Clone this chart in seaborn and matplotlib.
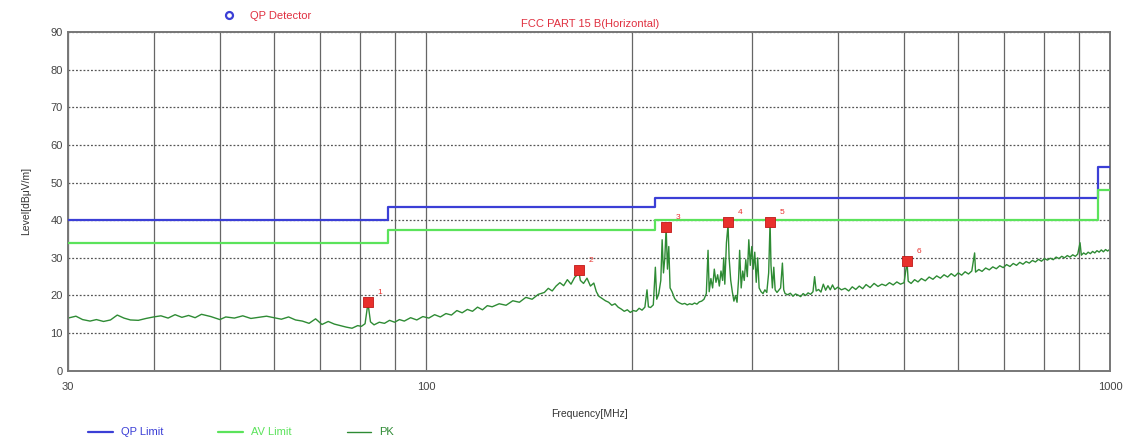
import seaborn as sns
import matplotlib.pyplot as plt
from matplotlib.ticker import FixedLocator, NullFormatter

# limit lines (step shaped)
limit_freq = [30, 88, 216, 960, 1000]
qp_limit = [40, 43.5, 46, 54, 54]
av_limit = [34, 37.5, 40, 48, 48]

# peak trace
pk_freq = [30.0, 30.8, 31.5, 32.3, 33.0, 33.8, 34.6, 35.4, 36.2, 37.0, 38.0, 39.0, 40.0, 41.0, 42.0,
           43.0, 44.0, 45.0, 46.0, 47.0, 48.5, 50.0, 51.0, 52.5, 54.0, 55.5, 57.0, 58.5, 60.0, 61.5,
           63.0, 64.5, 66.0, 67.5, 69.0, 70.5, 72.0, 73.5, 75.0, 76.5, 78.0, 79.5, 80.5, 81.5, 82.3,
           83.0, 84.0, 85.5, 87.0, 88.5, 90.0, 91.5, 93.0, 95.0, 97.0, 99.0, 101, 103, 105, 107,
           109, 111, 113, 115, 117, 119, 121, 123, 125, 128, 131, 134, 137, 140, 143,
           146, 149, 151, 153, 155, 157, 159, 161, 163, 165, 166.5, 167.3, 168.2, 170, 172,
           174, 176, 177.5, 179, 181, 183, 185, 187, 189, 191, 193, 195, 197, 199, 201,
           203, 205, 207, 209, 210.5, 211.5, 213, 215, 216.5, 217.5, 219, 220.5, 221.5, 222.5, 223.5,
           224.5, 225.5, 226.5, 227.5, 229, 231, 233, 235, 237, 239, 241, 243, 245, 247, 249,
           251, 253, 255, 257, 258.5, 259.5, 261, 262.5, 264, 265.5, 267, 268.5, 270, 271.5, 272.5,
           273.5, 275, 276.5, 277.5, 279, 280.5, 282, 283.5, 285, 286.5, 287.5, 289, 290.5, 292, 293.5,
           295, 296.5, 298, 299.5, 301, 302.5, 304, 305.5, 307, 309, 311, 313, 315, 317, 318.5,
           319.5, 321, 322.5, 324, 326, 328, 330, 332, 333.5, 335, 338, 341, 344, 347, 350,
           353, 356, 359, 362, 365, 368, 370, 372, 375, 378, 381, 384, 387, 390, 393,
           396, 400, 405, 410, 415, 420, 425, 430, 435, 440, 446, 452, 458, 464, 470,
           476, 482, 488, 494, 500, 505, 507, 512, 518, 524, 530, 537, 544, 551, 558,
           565, 572, 579, 586, 593, 600, 607, 614, 621, 628, 634, 636, 643, 650, 658,
           666, 674, 682, 690, 698, 706, 714, 722, 730, 738, 746, 754, 762, 770, 778,
           786, 794, 802, 810, 818, 826, 834, 842, 850, 858, 866, 874, 882, 890, 897,
           904, 908, 915, 922, 929, 936, 943, 950, 957, 964, 971, 978, 985, 992, 1000]
pk_level = [14.0, 14.5, 13.6, 13.2, 13.6, 13.1, 13.5, 14.8, 14.0, 13.5, 13.4, 13.9, 14.3, 14.6, 14.0,
            14.9, 14.2, 14.7, 14.1, 15.0, 14.4, 13.6, 14.3, 14.0, 14.6, 13.9, 14.2, 14.5, 14.1, 13.7,
            14.3, 13.5, 13.2, 12.6, 13.8, 12.3, 13.1, 12.4, 12.0, 11.6, 11.3, 12.0, 11.8, 12.5, 18.0,
            13.0, 12.2, 12.9, 12.6, 13.4, 12.9, 13.6, 13.2, 14.1, 13.5, 14.4, 14.0, 14.9, 14.3, 15.2,
            14.8, 16.0, 15.4, 16.3, 15.8, 16.9, 16.2, 17.3, 17.0, 17.8, 17.4, 18.6, 18.2, 19.5, 19.0,
            20.3, 20.8, 21.9, 21.2, 22.5, 23.4, 22.6, 24.2, 23.0, 24.8, 25.5, 26.5, 24.0, 23.2, 24.6,
            22.5, 23.3, 21.0, 19.8, 19.2, 18.6, 18.2, 17.4, 17.8, 16.9, 16.4, 15.8, 16.2, 15.5, 16.0,
            15.8, 16.6, 16.1, 16.9, 21.5, 17.0, 16.8, 17.5, 27.5, 19.0, 20.5, 24.0, 34.8, 26.0, 30.0,
            38.0, 27.0, 33.0, 22.0, 21.0, 19.2, 18.4, 18.0, 17.7, 17.9, 17.5, 17.8, 17.6, 18.0, 17.7,
            18.3, 18.5, 19.0, 20.5, 32.0, 21.0, 24.5, 22.0, 27.0, 23.5, 25.5, 22.5, 26.5, 24.0, 30.0,
            23.0, 34.0, 38.8, 30.0, 24.0, 21.0, 18.5, 20.0, 18.2, 24.5, 32.0, 22.0, 26.5, 24.0, 29.5,
            25.0, 34.8, 28.0, 33.0, 27.0, 31.5, 23.5, 30.0, 22.0, 21.0, 20.5, 21.5, 20.8, 26.0, 39.5,
            28.0, 22.0, 27.5, 21.5, 20.8, 21.4, 22.0, 28.6, 21.5, 20.5, 20.2, 20.6, 19.8, 20.4, 20.1,
            19.7, 20.5, 20.0, 20.7, 20.3, 21.0, 25.0, 21.2, 21.6, 20.9, 23.0, 21.4, 22.6, 21.5, 22.8,
            21.6, 22.2, 21.5, 21.9, 21.2, 22.3, 21.6, 22.5, 21.8, 22.9, 22.1, 23.2, 22.4, 23.0, 22.6,
            23.4, 22.8, 23.6, 23.0, 23.4, 29.0, 23.8, 23.2, 24.2, 23.6, 24.5, 23.9, 24.9, 24.3, 25.2,
            24.6, 25.5, 24.9, 25.8, 25.1, 26.0, 25.4, 26.3, 25.7, 26.5, 31.3, 26.2, 26.9, 26.4, 27.3,
            26.8, 27.6, 27.1, 27.9, 27.4, 28.2, 27.7, 28.5, 28.0, 28.8, 28.3, 29.0, 28.6, 29.3, 28.9,
            29.6, 29.1, 29.8, 29.4, 29.9, 29.5, 30.2, 29.8, 30.4, 30.0, 30.6, 30.2, 30.8, 30.4, 31.0,
            34.0, 30.7, 31.3, 30.9, 31.5, 31.1, 31.7, 31.3, 31.9, 31.5, 32.1, 31.6, 32.2, 31.8, 32.3]

# QP detector markers
mark_freq = [82.3, 167.3, 224.5, 276.5, 318.5, 505]
mark_level = [18.2, 26.8, 38.2, 39.5, 39.5, 29.2]
mark_label = ['1', '2', '3', '4', '5', '6']

sns.set_theme(style="white")
plt.rcParams['font.family'] = ['Liberation Sans', 'DejaVu Sans']

fig = plt.figure(figsize=(11.35, 4.43), dpi=100)
ax = fig.add_axes([0.060, 0.163, 0.918, 0.765])

blue = '#3b3fd6'
light_green = '#5be35b'
dark_green = '#2e8b34'

sns.lineplot(x=limit_freq, y=qp_limit, ax=ax, color=blue, linewidth=1.6,
             drawstyle='steps-post', estimator=None, sort=False, label='QP Limit', zorder=3)
sns.lineplot(x=limit_freq, y=av_limit, ax=ax, color=light_green, linewidth=1.6,
             drawstyle='steps-post', estimator=None, sort=False, label='AV Limit', zorder=3)
sns.lineplot(x=pk_freq, y=pk_level, ax=ax, color=dark_green, linewidth=1.0,
             estimator=None, sort=False, label='PK', zorder=2)
sns.scatterplot(x=mark_freq, y=mark_level, ax=ax, marker='s', s=45, color='#e8302c',
                edgecolor='#c01818', linewidth=0.6, zorder=4, legend=False)
for f, lv, lab in zip(mark_freq, mark_level, mark_label):
    ax.annotate(lab, (f, lv), xytext=(7, 6), textcoords='offset points',
                color='#e8302c', fontsize=6)

ax.set_xscale('log')
ax.set_xlim(30, 1000)
ax.set_ylim(0, 90)
ax.set_yticks(range(0, 91, 10))
ax.xaxis.set_major_locator(FixedLocator([30, 100, 1000]))
ax.xaxis.set_minor_locator(FixedLocator([40, 50, 60, 70, 80, 90, 200, 300, 400, 500, 600, 700, 800, 900]))
ax.xaxis.set_major_formatter(plt.FixedFormatter(['30', '100', '1000']))
ax.xaxis.set_minor_formatter(NullFormatter())
ax.tick_params(axis='both', which='both', length=0, labelsize=8, colors='#444444')
ax.tick_params(axis='y', pad=4)
ax.tick_params(axis='x', pad=8)

# grid: solid verticals, dotted horizontals
ax.grid(True, axis='x', which='both', color='#666666', linewidth=0.9, linestyle='-')
ax.grid(True, axis='y', which='major', color='#555555', linewidth=0.9, linestyle=(0, (1.5, 1.5)))
ax.set_axisbelow(True)
for sp in ax.spines.values():
    sp.set_color('#777777')
    sp.set_linewidth(1.4)

ax.set_xlabel('Frequency[MHz]', fontsize=7.5, color='#333333', labelpad=12)
ax.set_ylabel('Level[dBμV/m]', fontsize=7.5, color='#333333', labelpad=14)

fig.lines.append(plt.Line2D([0.2018], [0.966], transform=fig.transFigure, marker='o', markersize=5,
                            markerfacecolor='none', markeredgecolor=blue, markeredgewidth=1.6,
                            linestyle='none'))
fig.text(0.220, 0.965, 'QP Detector', color='#e03040', fontsize=8, ha='left', va='center')
fig.text(0.520, 0.945, 'FCC PART 15 B(Horizontal)', color='#e03040', fontsize=8,
         ha='center', va='center')

ax.get_legend().remove()
handles, labels = ax.get_legend_handles_labels()
fig.legend(handles, labels, loc='lower left', bbox_to_anchor=(0.069, -0.01), ncol=3,
           frameon=False, fontsize=8, labelcolor='linecolor', handlelength=2.2,
           columnspacing=5.0, handletextpad=0.7)

plt.savefig('out.png', dpi=100)
